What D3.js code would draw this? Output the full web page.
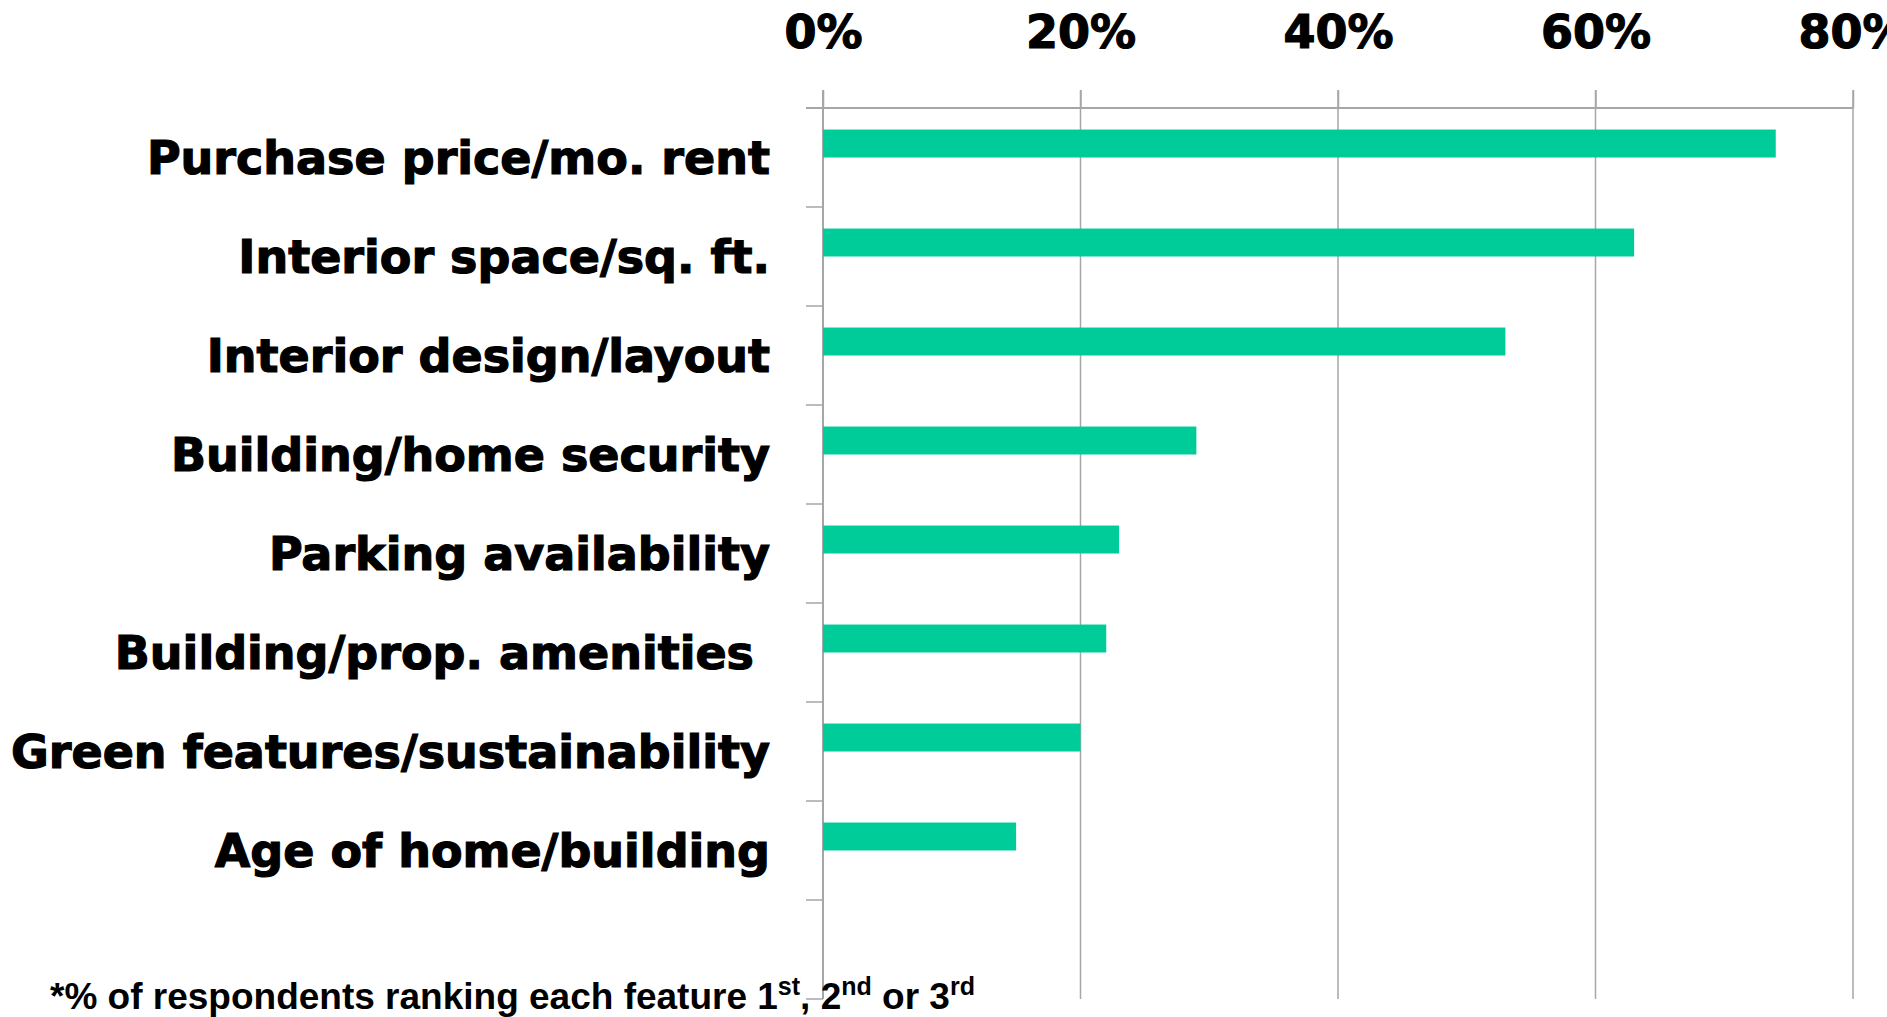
<!DOCTYPE html>
<html>
<head>
<meta charset="utf-8">
<script src="https://cdn.jsdelivr.net/npm/d3@7"></script>
<style>
  html, body { margin: 0; padding: 0; background: #fff; overflow: hidden; }
  svg { display: block; }
</style>
</head>
<body>
<div id="chart"></div>
<script>
  var width = 1887;
  var height = 1017;

  // features, top to bottom; the last row is empty in the original chart
  var categories = [
    "Purchase price/mo. rent",
    "Interior space/sq. ft.",
    "Interior design/layout",
    "Building/home security",
    "Parking availability",
    "Building/prop. amenities ",
    "Green features/sustainability",
    "Age of home/building",
    ""
  ];
  var shares = [0.74, 0.63, 0.53, 0.29, 0.23, 0.22, 0.20, 0.15];
  var series = ["share", "blank"];
  var tickValues = [0, 0.2, 0.4, 0.6, 0.8];
  var footnote = [
    {t: "*% of respondents ranking each feature 1"},
    {t: "st", sup: true},
    {t: ", 2"},
    {t: "nd", sup: true},
    {t: " or 3"},
    {t: "rd", sup: true}
  ];

  var barColor = "#00CC99";
  var gridColor = "#A6A6A6";
  var heavy = "'DejaVu Sans', sans-serif";

  var svg = d3.select("#chart").append("svg")
    .attr("width", width)
    .attr("height", height);

  var x = d3.scaleLinear().domain([0, 0.8]).range([823, 1853]);
  var y = d3.scaleBand().domain(categories).range([108, 999]);
  // two slots per row, only the first one is filled
  var inner = d3.scaleBand().domain(series).range([0, y.bandwidth()]).paddingOuter(0.77);

  // vertical gridlines
  svg.append("g").selectAll("line")
    .data(tickValues.slice(1))
    .enter().append("line")
    .attr("x1", function(d){ return x(d); })
    .attr("x2", function(d){ return x(d); })
    .attr("y1", 90)
    .attr("y2", 999)
    .attr("stroke", gridColor)
    .attr("stroke-width", 1.5);

  // top value axis
  var xAxis = svg.append("g")
    .attr("transform", "translate(0,108)")
    .call(d3.axisTop(x).tickValues(tickValues).tickFormat(d3.format(".0%")).tickSize(18).tickSizeOuter(0));
  xAxis.select(".domain").remove();
  xAxis.selectAll(".tick line").attr("stroke", gridColor).attr("stroke-width", 1.5);
  xAxis.selectAll(".tick text")
    .attr("y", -60)
    .attr("dy", 0)
    .attr("fill", "#000")
    .attr("stroke", "#000")
    .attr("stroke-width", 1.2)
    .attr("font-family", heavy)
    .attr("font-weight", "bold")
    .attr("font-size", "46px");
  svg.append("line")
    .attr("x1", 806).attr("x2", x(0.8))
    .attr("y1", 108).attr("y2", 108)
    .attr("stroke", gridColor).attr("stroke-width", 2);

  // category axis
  var bounds = categories.map(function(c){ return y(c); }).concat([y.range()[1]]);
  svg.append("line")
    .attr("x1", x(0)).attr("x2", x(0))
    .attr("y1", 90).attr("y2", 999)
    .attr("stroke", gridColor).attr("stroke-width", 2);
  svg.append("g").selectAll("line")
    .data(bounds)
    .enter().append("line")
    .attr("x1", 806).attr("x2", x(0))
    .attr("y1", function(d){ return d; })
    .attr("y2", function(d){ return d; })
    .attr("stroke", gridColor)
    .attr("stroke-width", 1.5);

  svg.append("g").selectAll("text")
    .data(categories)
    .enter().append("text")
    .attr("x", 770)
    .attr("y", function(d){ return y(d) + y.bandwidth()/2; })
    .attr("dy", "0.36em")
    .attr("text-anchor", "end")
    .attr("font-family", heavy)
    .attr("font-weight", "bold")
    .attr("font-size", "46px")
    .attr("fill", "#000")
    .attr("stroke", "#000")
    .attr("stroke-width", 1.2)
    .style("white-space", "pre")
    .text(function(d){ return d; });

  // bars
  svg.append("g").selectAll("rect")
    .data(shares)
    .enter().append("rect")
    .attr("x", x(0))
    .attr("y", function(d, i){ return y(categories[i]) + inner("share"); })
    .attr("width", function(d){ return x(d) - x(0); })
    .attr("height", inner.bandwidth())
    .attr("fill", barColor);

  // footnote
  var note = svg.append("text")
    .attr("x", 50)
    .attr("y", 1009)
    .attr("font-family", "'Liberation Sans', Arial, sans-serif")
    .attr("font-weight", "bold")
    .attr("font-size", "37px")
    .attr("fill", "#000");
  note.selectAll("tspan")
    .data(footnote)
    .enter().append("tspan")
    .attr("font-size", function(d){ return d.sup ? "25px" : null; })
    .attr("baseline-shift", function(d){ return d.sup ? "55%" : null; })
    .text(function(d){ return d.t; });
</script>
</body>
</html>
